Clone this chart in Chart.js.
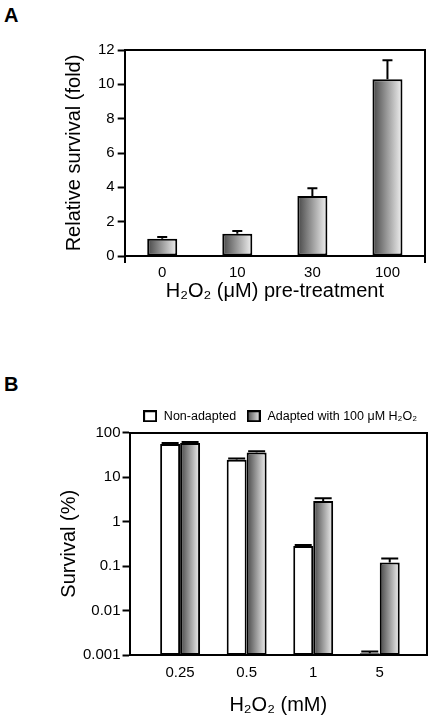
<!DOCTYPE html>
<html>
<head>
<meta charset="utf-8">
<script src="https://cdn.jsdelivr.net/npm/chart.js@4.4.1/dist/chart.umd.min.js"></script>
<style>
  body { margin: 0; background: #fff; width: 432px; height: 721px; position: relative; overflow: hidden;
         font-family: 'Liberation Sans', Arial, sans-serif; }
  .panel { position: absolute; left: 0; width: 432px; }
  .tag { position: absolute; left: 4px; font-weight: bold; font-size: 20px; line-height: 20px; }
  .plotbox { position: absolute; box-sizing: border-box; border: 2px solid #000; pointer-events: none; z-index: 3; }
  .endtick { position: absolute; width: 2px; height: 7px; background: #000; pointer-events: none; z-index: 3; }
</style>
</head>
<body>
<div class="tag" style="top:5px">A</div>
<div class="panel" style="top:0;height:330px"><canvas id="chartA"></canvas></div>
<div class="tag" style="top:374px">B</div>
<div class="panel" style="top:380px;height:341px"><canvas id="chartB"></canvas></div>
<script>
// panel A: fold survival after pre-treatment
const pretreatLabels = ['0', '10', '30', '100'];
const relSurvival = [1.0, 1.3, 3.5, 10.3];
const relSurvivalErr = [0.1, 0.15, 0.45, 1.1];
const relTicks = [0, 2, 4, 6, 8, 10, 12];

// panel B: survival at each H2O2 dose
const doseLabels = ['0.25', '0.5', '1', '5'];
const nonAdapted = [55, 24.5, 0.28, 0.0011];
const nonAdaptedErr = [3, 1.5, 0.015, 0.0001];
const adapted = [58, 35.5, 2.9, 0.12];
const adaptedErr = [3.5, 2.5, 0.45, 0.028];
const survivalTicks = [0.001, 0.01, 0.1, 1, 10, 100];

Chart.defaults.font.family = "'Liberation Sans', Arial, sans-serif";
Chart.defaults.color = '#000';
Chart.defaults.animation = false;
Chart.defaults.maintainAspectRatio = false;
Chart.defaults.devicePixelRatio = 1;
Chart.defaults.plugins.tooltip.enabled = false;

function barGradient(ctx, left, right) {
  if (!isFinite(left) || !isFinite(right) || right <= left) return '#999';
  const g = ctx.createLinearGradient(left, 0, right, 0);
  g.addColorStop(0, '#464646');
  g.addColorStop(1, '#f2f2f2');
  return g;
}

// upper error bars, placed with the y scale
const errorBars = {
  id: 'errorBars',
  afterDatasetsDraw(chart, args, opts) {
    const ctx = chart.ctx;
    const ys = chart.scales.y;
    ctx.save();
    ctx.strokeStyle = '#000';
    ctx.lineWidth = 2;
    ctx.beginPath();
    chart.data.datasets.forEach((ds, i) => {
      if (!ds.errors) return;
      chart.getDatasetMeta(i).data.forEach((bar, j) => {
        const d = ds.data[j];
        const v = typeof d === 'object' ? d.y : d;
        const top = ys.getPixelForValue(v + ds.errors[j]);
        ctx.moveTo(bar.x, bar.y);
        ctx.lineTo(bar.x, top);
        ctx.moveTo(bar.x - opts.cap / 2, top);
        ctx.lineTo(bar.x + opts.cap / 2, top);
      });
    });
    ctx.stroke();
    ctx.restore();
  }
};

// box round the plot area, kept in step with chart.chartArea
const boxes = {};
function makeBox(id, endTicks) {
  const el = document.createElement('div');
  el.className = 'plotbox';
  document.body.appendChild(el);
  const ticks = [];
  if (endTicks) {
    for (let k = 0; k < 2; k++) {
      const t = document.createElement('div');
      t.className = 'endtick';
      document.body.appendChild(t);
      ticks.push(t);
    }
  }
  boxes[id] = { el, ticks };
}
makeBox('chartA', true);
makeBox('chartB', false);

const plotBox = {
  id: 'plotBox',
  afterRender(chart) {
    const b = boxes[chart.canvas.id];
    const a = chart.chartArea;
    if (!b || !a) return;
    const y0 = chart.canvas.parentNode.offsetTop;
    const l = Math.round(a.left), r = Math.round(a.right);
    const t = Math.round(a.top), btm = Math.round(a.bottom);
    b.el.style.left = (l - 1) + 'px';
    b.el.style.top = (y0 + t - 1) + 'px';
    b.el.style.width = (r - l + 2) + 'px';
    b.el.style.height = (btm - t + 2) + 'px';
    b.ticks.forEach((tk, k) => {
      tk.style.left = ((k ? r : l) - 1) + 'px';
      tk.style.top = (y0 + btm) + 'px';
    });
  }
};

const axisBorder = { color: '#000', width: 2 };

new Chart(document.getElementById('chartA'), {
  type: 'bar',
  data: {
    labels: pretreatLabels,
    datasets: [{
      data: relSurvival,
      errors: relSurvivalErr,
      backgroundColor: c => {
        const xs = c.chart.scales.x;
        if (!xs || c.dataIndex === undefined) return '#999';
        const cx = xs.getPixelForValue(c.dataIndex);
        const half = xs.width / pretreatLabels.length * 0.4 / 2;
        return barGradient(c.chart.ctx, cx - half, cx + half);
      },
      borderColor: '#000',
      borderWidth: 2,
      borderSkipped: false,
      categoryPercentage: 1,
      barPercentage: 0.4
    }]
  },
  options: {
    layout: { padding: { left: 58, right: 7, top: 50, bottom: 25 } },
    plugins: {
      legend: { display: false },
      errorBars: { cap: 10 }
    },
    scales: {
      x: {
        ticks: { font: { size: 15 }, color: '#000', padding: 8 },
        grid: { drawOnChartArea: false, drawTicks: false },
        border: axisBorder,
        title: { display: true, text: 'H₂O₂ (μM) pre-treatment', color: '#000',
                 font: { size: 20, lineHeight: 1 }, padding: { top: -9, bottom: 4 } }
      },
      y: {
        min: 0, max: 12,
        afterBuildTicks: s => { s.ticks = relTicks.map(v => ({ value: v })); },
        ticks: { font: { size: 15 }, color: '#000', padding: 3 },
        grid: { drawOnChartArea: false, tickLength: 7, tickColor: '#000', tickWidth: 2 },
        border: axisBorder,
        title: { display: true, text: 'Relative survival (fold)', color: '#000',
                 font: { size: 20 }, padding: { top: 4, bottom: 9 } }
      }
    }
  },
  plugins: [errorBars, plotBox]
});

function swatch(kind) {
  const c = document.createElement('canvas');
  c.width = 14; c.height = 12;
  const g = c.getContext('2d');
  g.fillStyle = kind === 'grad' ? barGradient(g, 0, 14) : '#fff';
  g.fillRect(0, 0, 14, 12);
  g.strokeStyle = '#000';
  g.lineWidth = 2;
  g.strokeRect(1, 1, 12, 10);
  return c;
}
const swatches = [swatch('white'), swatch('grad')];

new Chart(document.getElementById('chartB'), {
  type: 'bar',
  data: {
    datasets: [{
      label: 'Non-adapted',
      data: nonAdapted.map((v, i) => ({ x: i, y: v })),
      errors: nonAdaptedErr,
      backgroundColor: '#fff',
      borderColor: '#000',
      borderWidth: 2,
      borderSkipped: false
    }, {
      label: 'Adapted with 100 μM H₂O₂',
      data: adapted.map((v, i) => ({ x: i, y: v })),
      errors: adaptedErr,
      backgroundColor: c => {
        const xs = c.chart.scales.x;
        if (!xs || c.dataIndex === undefined) return '#999';
        const cx = xs.getPixelForValue(c.dataIndex);
        const step = xs.getPixelForValue(1) - xs.getPixelForValue(0);
        return barGradient(c.chart.ctx, cx, cx + step * 0.3);
      },
      borderColor: '#000',
      borderWidth: 2,
      borderSkipped: false
    }]
  },
  options: {
    categoryPercentage: 0.6,
    barPercentage: 1,
    layout: { padding: { left: 53, right: 5, top: 20, bottom: 2 } },
    plugins: {
      legend: {
        position: 'top', align: 'end',
        labels: {
          usePointStyle: true, pointStyleWidth: 15, padding: 10,
          font: { size: 12.5 }, color: '#000',
          generateLabels: chart => chart.data.datasets.map((ds, i) => ({
            text: ds.label, pointStyle: swatches[i], datasetIndex: i,
            hidden: false, lineWidth: 0, fontColor: '#000'
          }))
        }
      },
      errorBars: { cap: 17 }
    },
    scales: {
      x: {
        type: 'linear', min: -0.76, max: 3.71, bounds: 'data', offset: false,
        afterBuildTicks: s => { s.ticks = doseLabels.map((_, i) => ({ value: i })); },
        ticks: { callback: v => doseLabels[v], font: { size: 15 }, color: '#000', padding: 9 },
        grid: { drawOnChartArea: false, drawTicks: false, offset: false },
        border: axisBorder,
        title: { display: true, text: 'H₂O₂ (mM)', color: '#000',
                 font: { size: 20, lineHeight: 1 }, padding: { top: 4, bottom: 4 } }
      },
      y: {
        type: 'logarithmic', min: 0.001, max: 100,
        afterBuildTicks: s => { s.ticks = survivalTicks.map(v => ({ value: v })); },
        ticks: { callback: v => String(v), font: { size: 15 }, color: '#000', padding: 2 },
        grid: { drawOnChartArea: false, tickLength: 7, tickColor: '#000', tickWidth: 2 },
        border: axisBorder,
        title: { display: true, text: 'Survival (%)', color: '#000',
                 font: { size: 20 }, padding: { top: 4, bottom: 0 } }
      }
    }
  },
  plugins: [errorBars, plotBox]
});
</script>
</body>
</html>
